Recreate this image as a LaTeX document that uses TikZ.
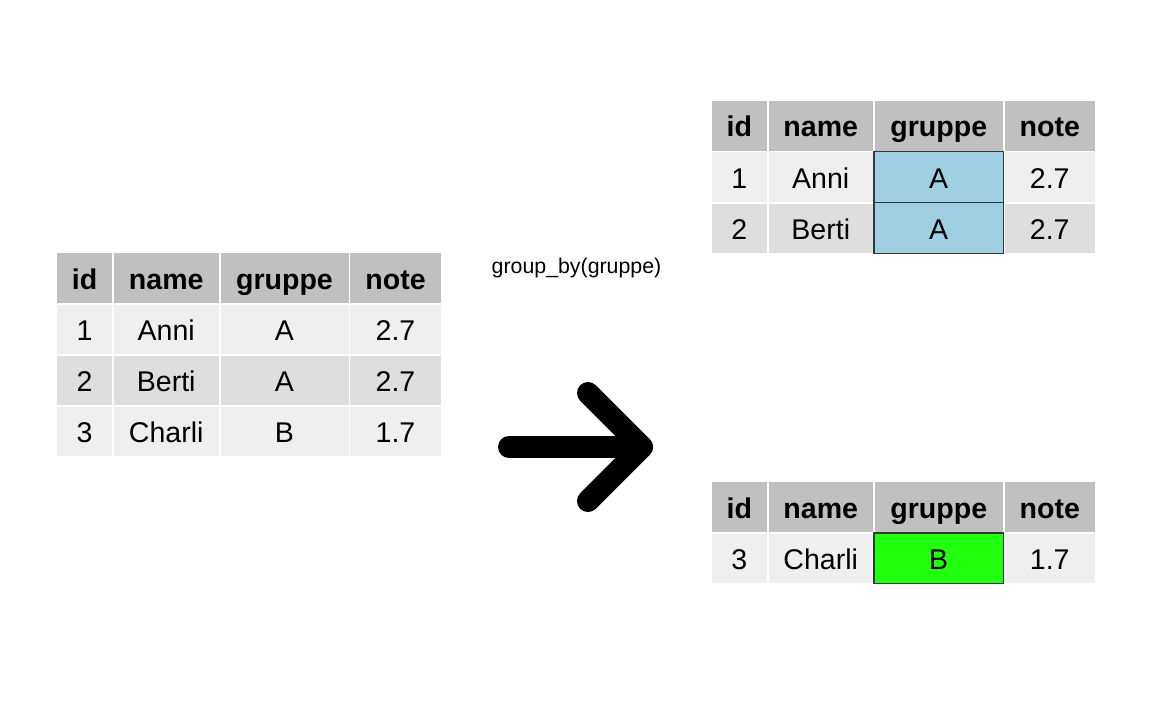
\documentclass[tikz,border=0pt]{standalone}
\usepackage{fontspec}
\setmainfont{Liberation Sans}
\definecolor{hdr}{HTML}{C0C0C0}
\definecolor{rowa}{HTML}{EFEFEF}
\definecolor{rowb}{HTML}{DEDEDE}
\definecolor{grpA}{HTML}{9FCFE0}
\definecolor{grpB}{HTML}{22FF0F}
\definecolor{cellborder}{HTML}{2E3A3E}
\newcommand\tcell[7]{\node[tcellbase,#6,minimum width={(#3-#2)*0.75pt},minimum height={(#5-#4)*0.75pt}] (#1) at ({(#2+#3)/2},{(#4+#5)/2}) {#7};}
\begin{document}
\begin{tikzpicture}[x=0.75pt,y=-0.75pt,
  tcellbase/.style={rectangle,inner sep=0pt,outer sep=0pt,draw=none,
    font=\fontsize{21.4}{24}\selectfont,text height=16.6pt,text depth=0pt,align=center},
  hd/.style={fill=hdr,font=\fontsize{21.4}{24}\selectfont\bfseries},
  ra/.style={fill=rowa},
  rb/.style={fill=rowb},
  ga/.style={fill=grpA,draw=cellborder,line width=0.9pt},
  gb/.style={fill=grpB,draw=cellborder,line width=0.9pt},
  arrowline/.style={line width=16.5pt,line cap=round,line join=round,draw=black}]
\useasboundingbox (0,0) rectangle (1152,711);
% left table
\tcell{L00}{57}{112}{253}{303}{hd}{id}
\tcell{L01}{113.5}{219}{253}{303}{hd}{name}
\tcell{L02}{220.5}{348.5}{253}{303}{hd}{gruppe}
\tcell{L03}{350}{441}{253}{303}{hd}{note}
\tcell{L10}{57}{112}{304.5}{354}{ra}{1}
\tcell{L11}{113.5}{219}{304.5}{354}{ra}{Anni}
\tcell{L12}{220.5}{348.5}{304.5}{354}{ra}{A}
\tcell{L13}{350}{441}{304.5}{354}{ra}{2.7}
\tcell{L20}{57}{112}{356}{405}{rb}{2}
\tcell{L21}{113.5}{219}{356}{405}{rb}{Berti}
\tcell{L22}{220.5}{348.5}{356}{405}{rb}{A}
\tcell{L23}{350}{441}{356}{405}{rb}{2.7}
\tcell{L30}{57}{112}{406.5}{456}{ra}{3}
\tcell{L31}{113.5}{219}{406.5}{456}{ra}{Charli}
\tcell{L32}{220.5}{348.5}{406.5}{456}{ra}{B}
\tcell{L33}{350}{441}{406.5}{456}{ra}{1.7}
% top right table
\tcell{A00}{711.5}{767}{101}{150.5}{hd}{id}
\tcell{A01}{768.5}{873}{101}{150.5}{hd}{name}
\tcell{A02}{874.5}{1003}{101}{150.5}{hd}{gruppe}
\tcell{A03}{1004.5}{1095}{101}{150.5}{hd}{note}
\tcell{A10}{711.5}{767}{152}{202}{ra}{1}
\tcell{A11}{768.5}{873}{152}{202}{ra}{Anni}
\tcell{A12}{874}{1003.5}{151.5}{202.5}{ga}{A}
\tcell{A13}{1004.5}{1095}{152}{202}{ra}{2.7}
\tcell{A20}{711.5}{767}{203.5}{253}{rb}{2}
\tcell{A21}{768.5}{873}{203.5}{253}{rb}{Berti}
\tcell{A22}{874}{1003.5}{202.5}{253.5}{ga}{A}
\tcell{A23}{1004.5}{1095}{203.5}{253}{rb}{2.7}
% bottom right table
\tcell{B00}{711.5}{767}{482}{532}{hd}{id}
\tcell{B01}{768.5}{873}{482}{532}{hd}{name}
\tcell{B02}{874.5}{1003}{482}{532}{hd}{gruppe}
\tcell{B03}{1004.5}{1095}{482}{532}{hd}{note}
\tcell{B10}{711.5}{767}{533.5}{583}{ra}{3}
\tcell{B11}{768.5}{873}{533.5}{583}{ra}{Charli}
\tcell{B12}{874}{1003.5}{533}{583.5}{gb}{B}
\tcell{B13}{1004.5}{1095}{533.5}{583}{ra}{1.7}
% label
\node[anchor=base,inner sep=0pt,font=\fontsize{16}{19}\selectfont] (lbl) at (576.5,273.5) {group\_by(gruppe)};
% arrow
\coordinate (as) at (509,447);
\coordinate (at) at (642,447);
\coordinate (au) at (588,393);
\coordinate (ad) at (588,501);
\draw[arrowline] (as) -- (at);
\draw[arrowline] (au) -- (at) -- (ad);
\end{tikzpicture}
\end{document}
